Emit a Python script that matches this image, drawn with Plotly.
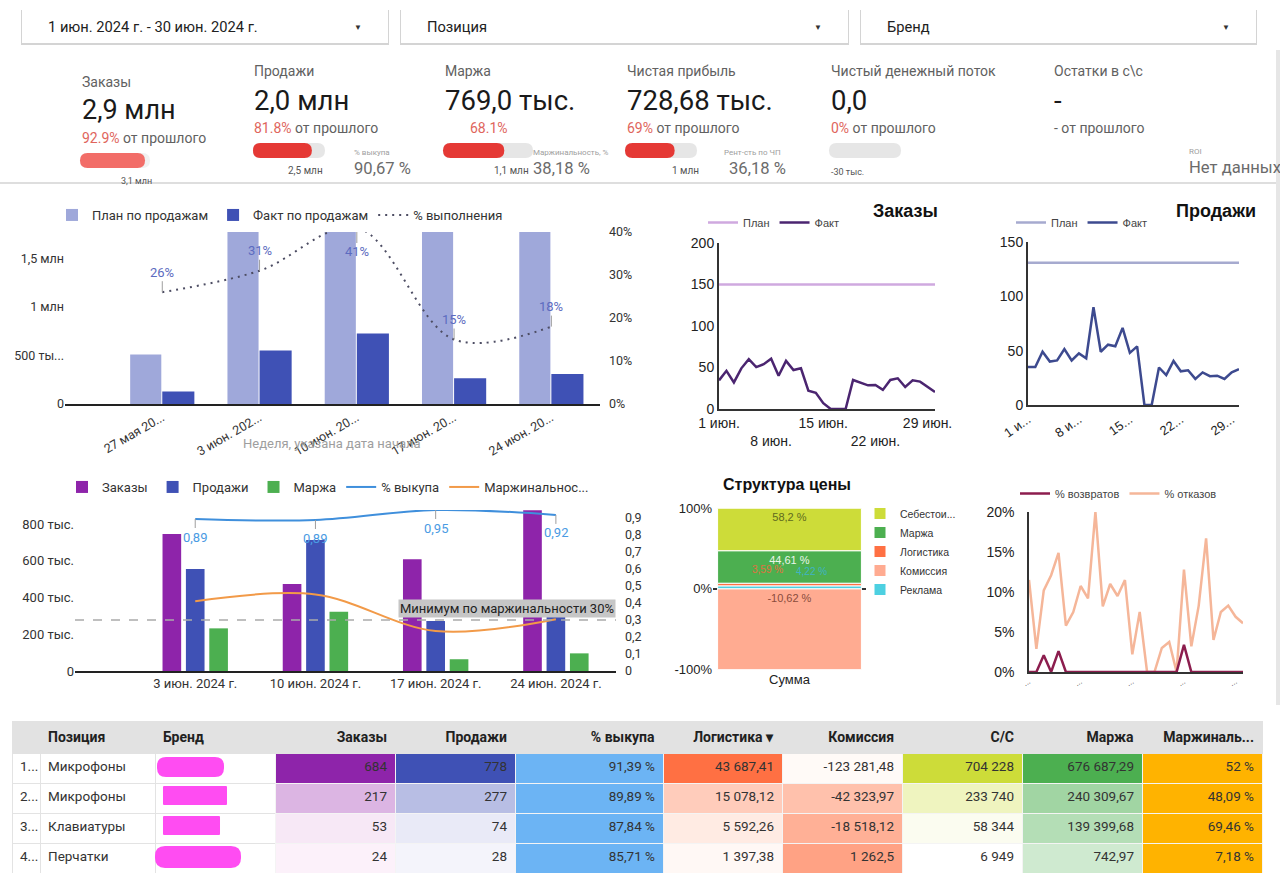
import plotly.graph_objects as go

W, H = 1280, 873
def X(p): return p / W
def Y(p): return 1 - p / H

# ====================== DATA ======================
filter_labels = ["1 июн. 2024 г. - 30 июн. 2024 г.", "Позиция", "Бренд"]

kpi_titles = ["Заказы", "Продажи", "Маржа", "Чистая прибыль", "Чистый денежный поток", "Остатки в с\\с"]
kpi_values = ["2,9 млн", "2,0 млн", "769,0 тыс.", "728,68 тыс.", "0,0", "-"]
kpi_delta = ["92.9%", "81.8%", "68.1%", "69%", "0%", "-"]
kpi_delta_suffix = [" от прошлого", " от прошлого", "", " от прошлого", " от прошлого", " от прошлого"]
kpi_progress = [0.929, 0.818, 0.681, 0.69, 0.0]
kpi_targets = ["3,1 млн", "2,5 млн", "1,1 млн", "1 млн", "-30 тыс."]
kpi_side_titles = ["% выкупа", "Маржинальность, %", "Рент-сть по ЧП", "ROI"]
kpi_side_values = ["90,67 %", "38,18 %", "36,18 %", "Нет данных"]

weeks = ["27 мая 2024", "3 июн. 2024", "10 июн. 2024", "17 июн. 2024", "24 июн. 2024"]
week_ticks = ["27 мая 20...", "3 июн. 202...", "10 июн. 20...", "17 июн. 20...", "24 июн. 20..."]
plan_sales = [510000, 1770000, 1770000, 1770000, 1770000]
fact_sales = [128000, 550000, 725000, 265000, 310000]
plan_pct = [0.26, 0.31, 0.41, 0.15, 0.18]

days = ["2024-06-%02d" % d for d in range(1, 31)]
orders_plan = 150
orders_fact = [34.5, 46, 32, 49, 60, 50.5, 54, 60.5, 40, 58, 47, 49, 22, 19.5, 7,
               0, 0, 0, 35, 32, 28.5, 29, 23, 35, 37, 26.5, 34.5, 33, 27, 20.5]
sales_plan = 131
sales_fact = [35, 35, 49, 40, 41, 51.5, 41, 47.5, 43, 90, 49, 55.5, 54, 71, 48,
              54, 0, 0, 34.5, 27.5, 40.5, 31, 32, 24, 30, 26.5, 27, 24, 30, 33]
day_tick_idx = [0, 7, 14, 21, 28]
orders_ticks = ["1 июн.", "<br>8 июн.", "15 июн.", "<br>22 июн.", "29 июн."]
sales_ticks = ["1 и...", "8 и...", "15...", "22...", "29..."]

combo_weeks = ["3 июн. 2024 г.", "10 июн. 2024 г.", "17 июн. 2024 г.", "24 июн. 2024 г."]
combo_orders = [745000, 473000, 608000, 875000]
combo_sales = [555000, 713000, 272000, 314000]
combo_margin = [232000, 323000, 64000, 96000]
buyout = [0.894, 0.888, 0.947, 0.918]
margin_rate = [0.41, 0.45, 0.235, 0.305]
margin_min = 0.3

struct_names = ["Себестои...", "Маржа", "Логистика", "Комиссия", "Реклама"]
struct_values = [58.2, 44.61, 3.59, -10.62, 4.22]
struct_stack_order = [4, 2, 1, 0, 3]   # bottom -> top for positives; negatives stack below zero

returns_pct = [0, 0, 2.1, 0, 2.6, 0, 0, 0, 0, 0, 0, 0, 0, 0, 0,
               0, 0, 0, 0, 0, 0, 3.4, 0, 0, 0, 0, 0, 0, 0, 0]
refusals_pct = [11.5, 2.9, 10.2, 12.1, 14.9, 5.8, 7.5, 10.75, 9.2, 20, 8.2, 11, 9.5, 11.5, 2.2,
                7.5, 0, 0, 3, 3.75, 0, 12.8, 3.2, 8.3, 16.7, 4, 7.5, 8.3, 6.9, 6.1]

tbl_num = ["1...", "2...", "3...", "4..."]
tbl_pos = ["Микрофоны", "Микрофоны", "Клавиатуры", "Перчатки"]
tbl_brand = ["", "", "", ""]
tbl_orders = [684, 217, 53, 24]
tbl_sales = [778, 277, 74, 28]
tbl_buyout = [91.39, 89.89, 87.84, 85.71]
tbl_logistics = [43687.41, 15078.12, 5592.26, 1397.38]
tbl_commission = [-123281.48, -42323.97, -18518.12, 1262.5]
tbl_cost = [704228, 233740, 58344, 6949]
tbl_margin = [676687.29, 240309.67, 139399.68, 742.97]
tbl_margin_rate = [52, 48.09, 69.46, 7.18]
tbl_headers = ["", "Позиция", "Бренд", "Заказы", "Продажи", "% выкупа", "Логистика ▾",
               "Комиссия", "С/С", "Маржа", "Маржиналь..."]

# ====================== STYLE ======================
ROB = "Roboto"
ARI = "Liberation Sans"
INK = "#333333"

def ru(v, dec=2):
    s = f"{abs(v):,.{dec}f}"
    ip, fp = s.split(".")
    ip = ip.replace(",", "\u00a0")
    fp = fp.rstrip("0")
    return ("-" if v < 0 else "") + ip + ("," + fp if fp else "")

def shade(vals, light, full):
    lo, hi = min(vals), max(vals)
    out = []
    for v in vals:
        t = (v - lo) / (hi - lo) if hi > lo else 1.0
        out.append("rgb(%d,%d,%d)" % tuple(round(a + (b - a) * t) for a, b in zip(light, full)))
    return out

fig = go.Figure()
annotations = []
shapes = []
layout = {}

def txt(x, y, s, size=14, color=INK, family=ROB, xanchor="left", yanchor="middle"):
    annotations.append(dict(x=X(x), y=Y(y), xref="paper", yref="paper", text=s, showarrow=False,
                            xanchor=xanchor, yanchor=yanchor,
                            font=dict(size=size, color=color, family=family)))

def rrect_path(x0, y0, x1, y1, r):
    r = min(r, (x1 - x0) / 2, (y1 - y0) / 2)
    pts = [("M", x0 + r, y0), ("L", x1 - r, y0), ("Q", x1, y0, x1, y0 + r), ("L", x1, y1 - r),
           ("Q", x1, y1, x1 - r, y1), ("L", x0 + r, y1), ("Q", x0, y1, x0, y1 - r),
           ("L", x0, y0 + r), ("Q", x0, y0, x0 + r, y0)]
    out = ""
    for p in pts:
        coords = p[1:]
        seg = ["%.5f,%.5f" % (X(coords[i]), Y(coords[i + 1])) for i in range(0, len(coords), 2)]
        out += p[0] + " ".join(seg) + " "
    return out + "Z"

# ---------------- filters ----------------
filter_boxes = [(22, 388), (401, 848), (861, 1256)]
for (x0, x1), lab in zip(filter_boxes, filter_labels):
    shapes.append(dict(type="rect", xref="paper", yref="paper", x0=X(x0 - 1), x1=X(x1 + 1), y0=Y(45), y1=Y(10),
                       fillcolor="#d4d4d4", line_width=0, layer="below"))
    shapes.append(dict(type="rect", xref="paper", yref="paper", x0=X(x0), x1=X(x1), y0=Y(43), y1=Y(10),
                       fillcolor="white", line_width=0, layer="below"))
    txt(x0 + 24, 27, lab, size=14.7, color="#212121")
    txt(x1 - 30, 27, "▼", size=8, color="#333", xanchor="center")

# ---------------- KPI scorecards ----------------
kpi_x = [80, 252, 443, 625, 829, 1052]
kpi_title_y = [82, 71, 71, 71, 71, 71]
kpi_value_y = [110, 100, 100, 100, 100, 100]
kpi_delta_y = [138, 128, 128, 128, 128, 128]
kpi_delta_x = [80, 252, 468, 625, 829, 1052]
kpi_value_size = [27, 27.5, 27.5, 27.5, 27.5, 27.5]
for i in range(6):
    txt(kpi_x[i], kpi_title_y[i], kpi_titles[i], size=14, color="#616161")
    txt(kpi_x[i], kpi_value_y[i], kpi_values[i], size=kpi_value_size[i], color="#1a1a1a")
    dcol = "#e0655c" if kpi_delta[i] != "-" else "#616161"
    txt(kpi_delta_x[i], kpi_delta_y[i],
        "<span style='color:%s'>%s</span>%s" % (dcol, kpi_delta[i], kpi_delta_suffix[i]),
        size=14, color="#616161")

# progress bars (pill shapes, fill length taken from the progress value)
prog_boxes = [(80, 150, 153, 168), (253, 325, 143, 158), (443, 533, 143, 158),
              (625, 697, 143, 158), (829, 901, 143, 158)]
prog_fg = ["#f26d68", "#e53935", "#e53935", "#e53935", "#e53935"]
prog_bg = ["#f1f1f1", "#e6e6e6", "#e6e6e6", "#e6e6e6", "#e6e6e6"]
for p, (x0, x1, y0, y1), fg, bg in zip(kpi_progress, prog_boxes, prog_fg, prog_bg):
    shapes.append(dict(type="path", xref="paper", yref="paper", path=rrect_path(x0, y0, x1, y1, 7.5),
                       fillcolor=bg, line_width=0, layer="below"))
    if p > 0:
        xe = x0 + (x1 - x0) * p
        shapes.append(dict(type="path", xref="paper", yref="paper", path=rrect_path(x0, y0, xe, y1, 7.5),
                           fillcolor=fg, line_width=0, layer="below"))

target_pos = [(136, 181, "center", 9), (325, 171, "right", 10), (531, 171, "right", 10),
              (701, 171, "right", 10), (829, 172, "left", 9)]
for lab, (x, y, anc, sz) in zip(kpi_targets, target_pos):
    txt(x, y, lab, size=sz, color="#555", xanchor=anc)

side_title_pos = [(352, 152), (531, 152), (722, 152), (1187, 151)]
side_value_pos = [(352, 169), (531, 169), (727, 169), (1187, 167)]
for t, v, (tx, ty), (vx, vy) in zip(kpi_side_titles, kpi_side_values, side_title_pos, side_value_pos):
    txt(tx, ty, t, size=8, color="#9e9e9e")
    txt(vx, vy, v, size=16.6, color="#6b6b6b")

shapes.append(dict(type="line", xref="paper", yref="paper", x0=0, x1=X(1276), y0=Y(183), y1=Y(183),
                   line=dict(color="#dedede", width=2)))
shapes.append(dict(type="line", xref="paper", yref="paper", x0=X(1278), x1=X(1278), y0=Y(50), y1=Y(705),
                   line=dict(color="#e6e6e6", width=4)))

# ---------------- Plan vs fact weekly ----------------
fig.add_trace(go.Bar(x=weeks, y=plan_sales, name="План по продажам", marker=dict(color="#9fa8da", line_width=0),
                     width=0.32, offset=-0.33, xaxis="x", yaxis="y", legend="legend", hoverinfo="skip"))
fig.add_trace(go.Bar(x=weeks, y=fact_sales, name="Факт по продажам", marker=dict(color="#3f51b5", line_width=0),
                     width=0.33, offset=0.0, xaxis="x", yaxis="y", legend="legend", hoverinfo="skip"))
fig.add_trace(go.Scatter(x=weeks, y=plan_pct, name="% выполнения", mode="lines",
                         line=dict(color="#4d4d63", width=2, dash="2px,5px", shape="spline"),
                         xaxis="x", yaxis="y2", legend="legend", hoverinfo="skip"))
PCT_TOP = 0.40
for w, p in zip(weeks, plan_pct):
    over = p >= PCT_TOP
    annotations.append(dict(x=w, y=min(p, PCT_TOP), xref="x", yref="y2", text="%d%%" % round(p * 100),
                            showarrow=True, arrowhead=0, arrowwidth=1, arrowcolor="#9e9e9e",
                            ax=0, ay=(20 if over else -20), standoff=0,
                            font=dict(size=13, color="#5c6bc0", family=ROB)))
txt(332, 443, "Неделя, указана дата начала", size=13, color="#9e9e9e", xanchor="center")

layout["xaxis"] = dict(domain=[X(65), X(600)], type="category", range=[-1, 4.5], tickvals=weeks,
                       ticktext=week_ticks, tickangle=-30, showline=True, linecolor="#222", linewidth=1.5,
                       ticks="", showgrid=False, anchor="y", tickfont=dict(size=12.5, color=INK, family=ROB))
layout["yaxis"] = dict(domain=[Y(404), Y(232)], range=[0, 1770000], tickvals=[0, 500000, 1000000, 1500000],
                       ticktext=["0", "500 ты...", "1 млн", "1,5 млн"], showgrid=False, zeroline=False,
                       anchor="x", tickfont=dict(size=12.5, color=INK, family=ROB))
layout["yaxis2"] = dict(overlaying="y", side="right", range=[0, PCT_TOP], tickvals=[0, 0.1, 0.2, 0.3, 0.4],
                        tickformat=".0%", showgrid=False, zeroline=False, anchor="x", ticklabelstandoff=8,
                        tickfont=dict(size=12.5, color=INK, family=ROB))
layout["legend"] = dict(orientation="h", x=X(52), y=Y(200), xanchor="left", yanchor="top",
                        font=dict(size=13, color=INK, family=ROB), bgcolor="rgba(0,0,0,0)")

# ---------------- Orders daily ----------------
fig.add_trace(go.Scatter(x=[days[0], days[-1]], y=[orders_plan, orders_plan], name="План", mode="lines",
                         line=dict(color="#cfa9df", width=2.5), xaxis="x2", yaxis="y3", legend="legend2",
                         hoverinfo="skip"))
fig.add_trace(go.Scatter(x=days, y=orders_fact, name="Факт", mode="lines", line=dict(color="#4b2570", width=2.5),
                         xaxis="x2", yaxis="y3", legend="legend2", hoverinfo="skip"))
layout["xaxis2"] = dict(domain=[X(719), X(935)], type="date", range=[days[0], days[-1]],
                        tickvals=[days[i] for i in day_tick_idx], ticktext=orders_ticks, tickangle=0,
                        showline=True, linecolor="#333", linewidth=2, ticks="", showgrid=False, anchor="y3",
                        tickfont=dict(size=14, color="#222", family=ARI))
layout["yaxis3"] = dict(domain=[Y(409), Y(243)], range=[0, 200], tickvals=[0, 50, 100, 150, 200],
                        showline=True, linecolor="#333", linewidth=2, showgrid=False, zeroline=False,
                        anchor="x2", tickfont=dict(size=14, color="#222", family=ARI))
layout["legend2"] = dict(orientation="h", x=X(703), y=Y(208), xanchor="left", yanchor="top",
                         font=dict(size=11, color="#444", family=ARI), bgcolor="rgba(0,0,0,0)")
txt(905, 211, "<b>Заказы</b>", size=18, color="#111", family=ARI, xanchor="center")

# ---------------- Sales daily ----------------
fig.add_trace(go.Scatter(x=[days[0], days[-1]], y=[sales_plan, sales_plan], name="План", mode="lines",
                         line=dict(color="#a6aacf", width=2.5), xaxis="x3", yaxis="y4", legend="legend3",
                         hoverinfo="skip"))
fig.add_trace(go.Scatter(x=days, y=sales_fact, name="Факт", mode="lines", line=dict(color="#3d4a8f", width=2.5),
                         xaxis="x3", yaxis="y4", legend="legend3", hoverinfo="skip"))
layout["xaxis3"] = dict(domain=[X(1028), X(1239)], type="date", range=[days[0], days[-1]],
                        tickvals=[days[i] for i in day_tick_idx], ticktext=sales_ticks, tickangle=-35,
                        showline=True, linecolor="#333", linewidth=2, ticks="", showgrid=False, anchor="y4",
                        tickfont=dict(size=13, color="#222", family=ARI))
layout["yaxis4"] = dict(domain=[Y(405), Y(242)], range=[0, 150], tickvals=[0, 50, 100, 150],
                        showline=True, linecolor="#333", linewidth=2, showgrid=False, zeroline=False,
                        anchor="x3", tickfont=dict(size=14, color="#222", family=ARI))
layout["legend3"] = dict(orientation="h", x=X(1011), y=Y(208), xanchor="left", yanchor="top",
                         font=dict(size=11, color="#444", family=ARI), bgcolor="rgba(0,0,0,0)")
txt(1216, 211, "<b>Продажи</b>", size=18, color="#111", family=ARI, xanchor="center")

# ---------------- Weekly combo ----------------
for vals, name, color, off in ((combo_orders, "Заказы", "#8e24aa", -0.272),
                               (combo_sales, "Продажи", "#3f51b5", -0.0775),
                               (combo_margin, "Маржа", "#4caf50", 0.117)):
    fig.add_trace(go.Bar(x=combo_weeks, y=vals, name=name, marker=dict(color=color, line_width=0),
                         width=0.155, offset=off, xaxis="x4", yaxis="y5", legend="legend4", hoverinfo="skip"))
fig.add_trace(go.Scatter(x=combo_weeks, y=buyout, name="% выкупа", mode="lines",
                         line=dict(color="#3f8fdc", width=2, shape="spline"), xaxis="x4", yaxis="y6",
                         legend="legend4", hoverinfo="skip"))
fig.add_trace(go.Scatter(x=combo_weeks, y=margin_rate, name="Маржинальнос...", mode="lines",
                         line=dict(color="#f29a48", width=2, shape="spline"), xaxis="x4", yaxis="y6",
                         legend="legend4", hoverinfo="skip"))
for w, b in zip(combo_weeks, buyout):
    annotations.append(dict(x=w, y=b, xref="x4", yref="y6", text=("%.2f" % b).replace(".", ","),
                            showarrow=True, arrowhead=0, arrowwidth=1, arrowcolor="#9e9e9e",
                            ax=0, ay=18, standoff=0, font=dict(size=13, color="#4a9be3", family=ROB)))
shapes.append(dict(type="line", xref="x4 domain", yref="y6", x0=0, x1=1, y0=margin_min, y1=margin_min,
                   line=dict(color="#aaaaaa", width=1.5, dash="dash")))
annotations.append(dict(x=1, y=margin_min, xref="x4 domain", yref="y6", xanchor="right", yanchor="bottom",
                        yshift=2, showarrow=False, bgcolor="#c6c6c6",
                        text="Минимум по маржинальности %d%%" % round(margin_min * 100),
                        font=dict(size=13, color="#222", family=ROB)))
layout["xaxis4"] = dict(domain=[X(75), X(616)], type="category", range=[-1, 3.5], showline=True,
                        linecolor="#222", linewidth=1.5, ticks="", showgrid=False, anchor="y5",
                        tickfont=dict(size=13, color=INK, family=ROB))
layout["yaxis5"] = dict(domain=[Y(671), Y(510)], range=[0, 876000],
                        tickvals=[0, 200000, 400000, 600000, 800000],
                        ticktext=["0", "200 тыс.", "400 тыс.", "600 тыс.", "800 тыс."], showgrid=False,
                        zeroline=False, anchor="x4", tickfont=dict(size=13, color=INK, family=ROB))
layout["yaxis6"] = dict(overlaying="y5", side="right", range=[0, 0.947],
                        tickvals=[i / 10 for i in range(10)],
                        ticktext=["0"] + ["0,%d" % i for i in range(1, 10)], showgrid=False, zeroline=False,
                        anchor="x4", ticklabelstandoff=8, tickfont=dict(size=12.5, color=INK, family=ROB))
layout["legend4"] = dict(orientation="h", x=X(62), y=Y(472), xanchor="left", yanchor="top",
                         font=dict(size=13, color=INK, family=ROB), bgcolor="rgba(0,0,0,0)")

# ---------------- Price structure ----------------
pos_total = sum(v for v in struct_values if v > 0)
neg_total = sum(-v for v in struct_values if v < 0)
struct_colors = ["#cddc39", "#4caf50", "#ff7043", "#ffab91", "#4dd0e1"]
struct_text_col = ["#5f6a1e", "#eaf6ea", "#e0703f", "#8a4b3c", "#3fb3c4"]
def pct_label(v):
    return ("%.2f" % v).rstrip("0").rstrip(".").replace(".", ",") + " %"
base_pos = 0.0
struct_tops = {}
for idx in struct_stack_order:
    v = struct_values[idx]
    if v > 0:
        h = v / pos_total * 100
        base = base_pos
        base_pos += h
        anchor = "end"
    else:
        h = v / neg_total * 100
        base = 0.0
        anchor = "start"
    thin = abs(h) < 10
    struct_tops[idx] = base + h
    fig.add_trace(go.Bar(x=["Сумма"], y=[h], base=[base], name=struct_names[idx],
                         marker=dict(color=struct_colors[idx], line=dict(color="white", width=1)),
                         width=0.94, offset=-0.47, text=[pct_label(v)],
                         textposition="none" if thin else "inside", insidetextanchor=anchor,
                         textfont=dict(size=11, color=struct_text_col[idx], family=ARI),
                         xaxis="x5", yaxis="y7", legend="legend5", legendrank=idx + 1, hoverinfo="skip"))
# labels of the thin segments, placed side by side inside the green block
for idx, xs in ((2, -22), (4, 22)):
    annotations.append(dict(x="Сумма", y=struct_tops[idx], xref="x5", yref="y7", xshift=xs, yshift=14,
                            showarrow=False, text=pct_label(struct_values[idx]),
                            font=dict(size=10, color=struct_text_col[idx], family=ARI)))
layout["xaxis5"] = dict(domain=[X(713), X(866)], type="category", range=[-0.5, 0.5], showline=False,
                        ticks="", showgrid=False, anchor="y7", tickfont=dict(size=13, color="#222", family=ARI))
layout["yaxis7"] = dict(domain=[Y(669.5), Y(508.3)], range=[-100, 100], tickvals=[-100, 0, 100],
                        ticktext=["-100%", "0%", "100%"], showgrid=False, zeroline=True, zerolinecolor="#333",
                        zerolinewidth=2, anchor="x5", tickfont=dict(size=13, color="#222", family=ARI))
layout["legend5"] = dict(orientation="v", x=X(860), y=Y(499), xanchor="left", yanchor="top",
                         font=dict(size=10.5, color="#333", family=ARI), bgcolor="rgba(0,0,0,0)",
                         tracegroupgap=0, traceorder="normal")
txt(787, 484, "<b>Структура цены</b>", size=16, color="#111", family=ARI, xanchor="center")

# ---------------- Returns / refusals ----------------
fig.add_trace(go.Scatter(x=days, y=refusals_pct, name="% отказов", mode="lines",
                         line=dict(color="#f5b699", width=2.5), xaxis="x6", yaxis="y8", legend="legend6",
                         legendrank=2, hoverinfo="skip"))
fig.add_trace(go.Scatter(x=days, y=returns_pct, name="% возвратов", mode="lines",
                         line=dict(color="#8c1d4e", width=2.5), xaxis="x6", yaxis="y8", legend="legend6",
                         legendrank=1, hoverinfo="skip"))
ret_ticks = [0, 5, 10, 15, 20]
layout["xaxis6"] = dict(domain=[X(1029), X(1243)], type="date", range=[days[0], days[-1]],
                        tickvals=[days[i] for i in day_tick_idx], ticktext=["..."] * len(day_tick_idx),
                        tickangle=-30, showline=True, linecolor="#333", linewidth=1.5, ticks="",
                        showgrid=False, anchor="y8", tickfont=dict(size=8, color="#555", family=ARI))
layout["yaxis8"] = dict(domain=[Y(672), Y(512)], range=[0, 20], tickvals=ret_ticks,
                        ticktext=["%d%%" % t for t in ret_ticks], ticklabelstandoff=10,
                        showline=True, linecolor="#333", linewidth=1.5, showgrid=False, zeroline=False,
                        anchor="x6", tickfont=dict(size=14, color="#222", family=ARI))
layout["legend6"] = dict(orientation="h", x=X(1015), y=Y(479), xanchor="left", yanchor="top",
                         font=dict(size=11, color="#444", family=ARI), bgcolor="rgba(0,0,0,0)",
                         traceorder="normal")

# ---------------- Table ----------------
fill_white = ["white"] * 4
fills = [fill_white, fill_white, fill_white,
         shade(tbl_orders, (252, 241, 250), (142, 36, 170)),
         shade(tbl_sales, (244, 244, 251), (63, 81, 181)),
         ["#6cb4f4"] * 4,
         shade(tbl_logistics, (255, 248, 245), (255, 112, 67)),
         shade(tbl_commission, (255, 250, 247), (255, 162, 132)),
         shade(tbl_cost, (255, 255, 255), (205, 220, 57)),
         shade(tbl_margin, (207, 234, 208), (76, 175, 80)),
         ["#ffb300"] * 4]
cell_vals = [tbl_num, tbl_pos, tbl_brand,
             [ru(v) for v in tbl_orders], [ru(v) for v in tbl_sales],
             [ru(v) + " %" for v in tbl_buyout], [ru(v) for v in tbl_logistics],
             [ru(v) for v in tbl_commission], [ru(v) for v in tbl_cost],
             [ru(v) for v in tbl_margin], [ru(v) + " %" for v in tbl_margin_rate]]
aligns = ["left", "left", "left"] + ["right"] * 8
fig.add_trace(go.Table(
    domain=dict(x=[X(12), X(1262)], y=[0, Y(721)]),
    columnwidth=[28, 115, 120, 120, 120, 148, 119, 120, 120, 120, 120],
    header=dict(values=["<b>%s</b>" % h for h in tbl_headers], fill_color="#e2e2e2", line_color="#e2e2e2",
                align=aligns, height=27, font=dict(size=14, color="#212121", family=ROB)),
    cells=dict(values=cell_vals, fill_color=fills,
               line_color=["#e3e3e3"] * 3 + ["#f4f4f4"] * 8,
               align=aligns, height=30, font=dict(size=13.5, color="#333", family=ROB))))

# redaction marks over brand names
blobs = [(157, 757, 224, 777, 9), (163, 786, 227, 805, 1), (163, 816, 220, 835, 1), (155, 846, 241, 868, 10)]
for x0, y0, x1, y1, r in blobs:
    shapes.append(dict(type="path", xref="paper", yref="paper", path=rrect_path(x0, y0, x1, y1, r),
                       fillcolor="#ff4cf2", line_width=0, layer="above"))

layout.update(dict(width=W, height=H, autosize=False,
                   margin=dict(l=0, r=0, t=0, b=0, pad=0, autoexpand=False),
                   paper_bgcolor="white", plot_bgcolor="rgba(0,0,0,0)", barmode="overlay",
                   showlegend=True, annotations=annotations, shapes=shapes,
                   font=dict(family=ROB, color=INK)))
fig.update_layout(**layout)
fig.write_html("out.html")
